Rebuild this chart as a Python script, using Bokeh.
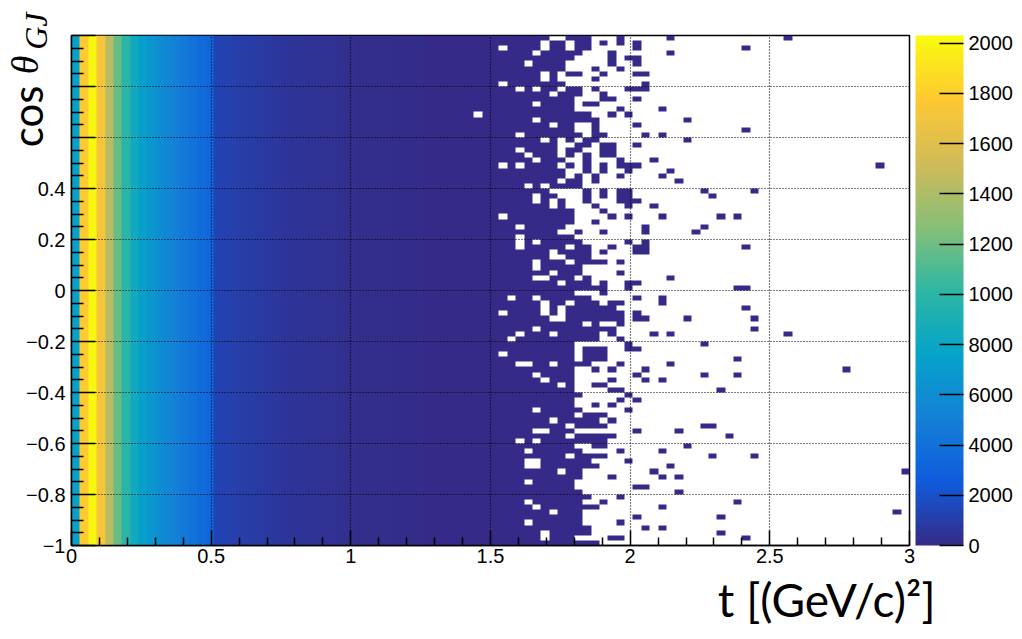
import numpy as np
from bokeh.plotting import figure
from bokeh.models import (LinearColorMapper, ColorBar, FixedTicker, Title)
from bokeh.embed import file_html
from bokeh.resources import INLINE

# ---------------- data ----------------
t_range = (0.0, 3.0)          # t [(GeV/c)^2], 100 bins
cos_range = (-1.0, 1.0)       # cos theta_GJ, 100 bins
n_t, n_cos = 100, 100

# counts per t-column (uniform in cos theta), columns 0..73
col_counts = [7300, 17800, 20000, 17200, 14400, 11800, 9900, 8300, 7400, 6700,
              6100, 5500, 5000, 4500, 4100, 3700, 3300, 1300, 1200, 1100,
              1000, 900, 820, 740, 670, 600, 540, 490, 440, 400,
              360, 320, 290, 260, 230, 200, 180, 160, 140, 120,
              105, 90, 78, 66, 56, 47, 40, 34, 28, 23,
              19, 16, 13, 11, 9, 7, 6, 5, 4, 3,
              3, 2, 2, 2, 1, 1, 1, 1, 1, 1,
              1, 1, 1, 1]

# occupancy of columns 44..73 for each cos-theta row (row 0 = top, cos ~ 1)
sparse_first_col = 44
sparse_rows = [
    "#############..###...#.....#..",
    "############.##.##.#.#.#......",
    "#######.####.##.##.....#......",
    "###########.#####...#......#..",
    "################....#.##......",
    "##########.####.....#..#......",
    "###############...#..#........",
    "############.#.##..#...##.....",
    "############.#....#...........",
    "#######.#######.........#.....",
    "#########.#.##.##.#...###.....",
    "#############.###..#..........",
    "################...##..#......",
    "###########.####.##...........",
    "################.....#....#...",
    "####.#############..#.#.......",
    "###########.#######..........#",
    "#############.##..#....#......",
    "################..#...........",
    "#########.#######.##....#.#...",
    "############.#.#.##..........#",
    "##############..##.##..#......",
    "#########.####.##..##.........",
    "##########.###.#.#.##.........",
    "###########.###..#...#...#....",
    "#######.#.####.#.#.#.###......",
    "###############..#.#..#....#..",
    "###############.#.#..#....#...",
    "##############.##.#.........#.",
    "##########.#.####.............",
    "#############....#.#.##.......",
    "###########.##...#.#.##.......",
    "###########.#.#..#...###......",
    "#############.#...#...#..#....",
    "################...#..........",
    "#######.########....#.#...#...",
    "################..#...........",
    "#########.#####.........#.....",
    "##############..#..#....#.....",
    "#########.######..............",
    "#########.#.#####.....#.#.....",
    "#########.#####.##..#..##.....",
    "#############.####.#...##.....",
    "#############..###............",
    "###########.###.####.#........",
    "###########.#####.............",
    "#############.###....#........",
    "###########..###.#.........#..",
    "##############.###.#..##......",
    "####################..#.......",
    "################...#..........",
    "########.##.######.....#..#...",
    "############.##.###.##....#...",
    "############.#.######.........",
    "#######.####.#.#######.#......",
    "#############..#######.##....#",
    "#################.#..#........",
    "###########.#########.........",
    "#########.###.#####.#....#.#..",
    "########.##########..#........",
    "################......#.......",
    "################.###..##......",
    "#######.########.###..........",
    "################.###..........",
    "#########..##.####...#.....#..",
    "################..#.#...#.....",
    "###########.####.......#......",
    "############.###....#...#.#...",
    "##############.#..##..........",
    "################....##........",
    "#################.....#.......",
    "################.....#.#......",
    "################..#.#.........",
    "###########.#####.....#.......",
    "################.###..........",
    "#############.#####.#.........",
    "###############.####..........",
    "###########..###.......#....#.",
    "###############.#####.........",
    "#########.#.########..........",
    "################..##.........#",
    "##########.######....#....#...",
    "###############.####..........",
    "##########..######....#.......",
    "##########..#######........#..",
    "##############.##........#....",
    "#################...#.....#.#.",
    "##########.#####..............",
    "################.......##.....",
    "#################...........#.",
    "##################...#........",
    "##########.######..#..........",
    "###########.#######.......#...",
    "#############.###.............",
    "#################......#......",
    "##########.######....#........",
    "##################......#.#...",
    "############.#####............",
    "############.###....##........",
    "###################...........",
]

# isolated single entries beyond column 73: (t column, cos row from top)
far_cells = [(85, 0), (80, 2), (80, 18), (96, 25), (75, 30), (81, 30), (76, 31),
             (77, 35), (79, 35), (75, 37), (74, 38), (80, 41), (79, 49), (80, 49),
             (80, 53), (81, 55), (81, 57), (85, 58), (75, 60), (79, 63), (92, 65),
             (75, 66), (79, 66), (77, 69), (75, 76), (76, 76), (78, 78), (76, 82),
             (81, 82), (99, 85), (79, 91), (98, 93), (77, 94), (77, 97), (80, 98)]
far_count = 1

z_max = 20300
z_ticks = [0, 2000, 4000, 6000, 8000, 10000, 12000, 14000, 16000, 18000, 20000]
z_labels = ["0", "2000", "4000", "6000", "8000", "1000", "1200", "1400", "1600", "1800", "2000"]

x_ticks = [0, 0.5, 1, 1.5, 2, 2.5, 3]
x_labels = ["0", "0.5", "1", "1.5", "2", "2.5", "3"]
x_minor = [0.1, 0.2, 0.3, 0.4, 0.6, 0.7, 0.8, 0.9, 1.1, 1.2, 1.3, 1.4, 1.6, 1.7, 1.8, 1.9,
           2.1, 2.2, 2.3, 2.4, 2.6, 2.7, 2.8, 2.9]
y_ticks = [-1, -0.8, -0.6, -0.4, -0.2, 0, 0.2, 0.4, 0.6, 0.8, 1]
y_labels = ["\u22121", "\u22120.8", "\u22120.6", "\u22120.4", "\u22120.2", "0", "0.2", "0.4", "", "", ""]
y_minor = [-0.95, -0.9, -0.85, -0.75, -0.7, -0.65, -0.55, -0.5, -0.45, -0.35, -0.3, -0.25,
           -0.15, -0.1, -0.05, 0.05, 0.1, 0.15, 0.25, 0.3, 0.35, 0.45, 0.5, 0.55,
           0.65, 0.7, 0.75, 0.85, 0.9, 0.95]

x_title = "t [(GeV/c)\u00b2]"
y_title_parts = ["cos", "\u03b8", "GJ"]

# ---------------- histogram array ----------------
Z = np.full((n_cos, n_t), np.nan)
for c in range(sparse_first_col):
    Z[:, c] = col_counts[c]
for r, row in enumerate(sparse_rows):
    for k, ch in enumerate(row[:30]):
        if ch == "#":
            Z[n_cos - 1 - r, sparse_first_col + k] = col_counts[sparse_first_col + k]
for c, r in far_cells:
    Z[n_cos - 1 - r, c] = far_count

# ROOT kBird palette
stops = [0.0, 0.125, 0.25, 0.375, 0.5, 0.625, 0.75, 0.875, 1.0]
red = [0.2082, 0.0592, 0.0780, 0.0232, 0.1802, 0.5301, 0.8186, 0.9956, 0.9764]
green = [0.1664, 0.3599, 0.5041, 0.6419, 0.7178, 0.7492, 0.7328, 0.7862, 0.9832]
blue = [0.5293, 0.8684, 0.8385, 0.7914, 0.6425, 0.4662, 0.3499, 0.1968, 0.0539]
pos = np.linspace(0, 1, 255)
palette = ["#%02x%02x%02x" % (int(round(255 * np.interp(q, stops, red))),
                              int(round(255 * np.interp(q, stops, green))),
                              int(round(255 * np.interp(q, stops, blue)))) for q in pos]

mapper = LinearColorMapper(palette=palette, low=0, high=z_max, nan_color="rgba(0,0,0,0)")

# ---------------- figure ----------------
p = figure(width=1022, height=639, x_range=t_range, y_range=cos_range,
           output_backend="svg", toolbar_location=None,
           min_border_left=71, min_border_right=113, min_border_top=35, min_border_bottom=94,
           background_fill_color="white", border_fill_color="white")

p.image(image=[Z], x=t_range[0], y=cos_range[0],
        dw=t_range[1] - t_range[0], dh=cos_range[1] - cos_range[0], color_mapper=mapper)

p.outline_line_color = "black"
p.outline_line_width = 1.5

xt = FixedTicker(ticks=x_ticks, minor_ticks=x_minor)
yt = FixedTicker(ticks=y_ticks, minor_ticks=y_minor)
p.xaxis.ticker = xt
p.yaxis.ticker = yt
p.xaxis.major_label_overrides = dict(zip(x_ticks, x_labels))
p.yaxis.major_label_overrides = dict(zip(y_ticks, y_labels))

for ax in (p.xaxis, p.yaxis):
    ax.axis_line_color = "black"
    ax.axis_line_width = 1.5
    ax.major_tick_line_color = "black"
    ax.minor_tick_line_color = "black"
    ax.major_tick_line_width = 1.5
    ax.minor_tick_line_width = 1.5
    ax.major_tick_out = 0
    ax.minor_tick_out = 0
    ax.major_label_text_font = "Liberation Sans"
    ax.major_label_text_font_size = "20px"
    ax.major_label_text_color = "black"
p.xaxis.major_tick_in = 15
p.xaxis.minor_tick_in = 8
p.yaxis.major_tick_in = 24
p.yaxis.minor_tick_in = 12
p.xaxis.major_label_standoff = 3
p.yaxis.major_label_standoff = 6

p.xgrid.ticker = xt
p.ygrid.ticker = yt
for g in (p.xgrid, p.ygrid):
    g.grid_line_color = "black"
    g.grid_line_dash = "1 2"
    g.grid_line_width = 1.2
    g.grid_line_alpha = 1.0
    g.level = "overlay"

cb = ColorBar(color_mapper=mapper, ticker=FixedTicker(ticks=z_ticks),
              major_label_overrides=dict(zip(z_ticks, z_labels)),
              width=48, height=510, location=(6, 0), padding=0, margin=0,
              major_tick_in=24, major_tick_out=0, major_tick_line_color="black",
              major_tick_line_width=1.5, minor_tick_line_color=None,
              bar_line_color=None, label_standoff=5,
              major_label_text_font="Liberation Sans", major_label_text_font_size="20px",
              major_label_text_color="black", background_fill_color="white")
p.add_layout(cb, "right")

# x title (side-panel title, right aligned beyond the frame edge)
p.add_layout(Title(text=x_title, align="right", vertical_align="top", offset=-26, standoff=13,
                   text_font="Lato", text_font_size="46px", text_font_style="normal",
                   text_color="black"), "below")

# y title pieces
p.add_layout(Title(text=y_title_parts[0], align="right", vertical_align="bottom", offset=50,
                   standoff=-57, text_font="Lato", text_font_size="42px",
                   text_font_style="normal", text_color="black"), "left")
p.add_layout(Title(text=y_title_parts[1], align="right", vertical_align="bottom", offset=20,
                   standoff=-45, text_font="Liberation Serif", text_font_size="38px",
                   text_font_style="italic", text_color="black"), "left")
p.add_layout(Title(text=y_title_parts[2], align="right", vertical_align="bottom", offset=-23,
                   standoff=-61, text_font="Liberation Serif", text_font_size="32px",
                   text_font_style="italic", text_color="black"), "left")

open("out.html", "w").write(file_html(p, INLINE))
